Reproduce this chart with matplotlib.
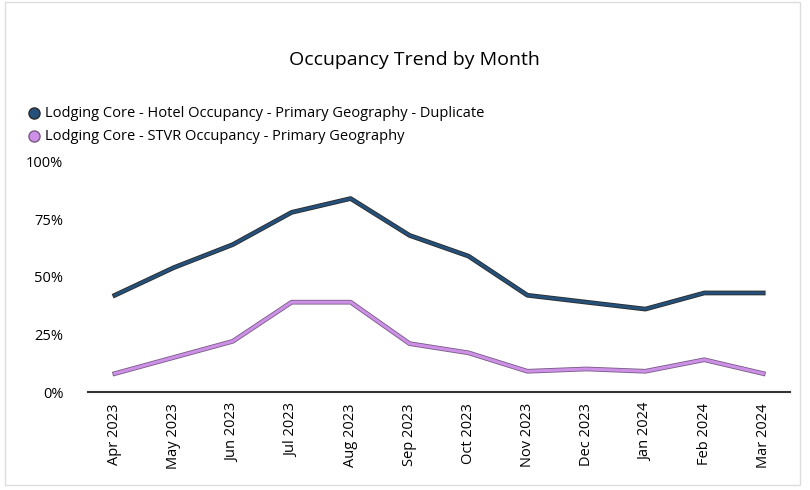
import numpy as np
import matplotlib.pyplot as plt
import matplotlib.patheffects as pe
from matplotlib.lines import Line2D
from matplotlib.ticker import FuncFormatter

plt.rcParams['font.family'] = ['Open Sans', 'DejaVu Sans']

months = ["Apr 2023", "May 2023", "Jun 2023", "Jul 2023", "Aug 2023", "Sep 2023",
          "Oct 2023", "Nov 2023", "Dec 2023", "Jan 2024", "Feb 2024", "Mar 2024"]
hotel = [42, 54, 64, 78, 84, 68, 59, 42, 39, 36, 43, 43]
stvr = [8, 15, 22, 39, 39, 21, 17, 9, 10, 9, 14, 8]

hotel_label = "Lodging Core - Hotel Occupancy - Primary Geography - Duplicate"
stvr_label = "Lodging Core - STVR Occupancy - Primary Geography"

fig = plt.figure(figsize=(8.1, 4.9), dpi=100)
ax = fig.add_axes([0.109, 0.2, 0.866, 0.47])

x = np.arange(len(months))
ax.plot(x, hotel, color='#24507a', lw=2.2,
        path_effects=[pe.Stroke(linewidth=3.4, foreground='#2b2b2b'), pe.Normal()])
ax.plot(x, stvr, color='#cc90e6', lw=2.2,
        path_effects=[pe.Stroke(linewidth=3.4, foreground='#7a5a86'), pe.Normal()])

ax.set_xlim(-0.45, 11.45)
ax.set_ylim(0, 100)
ax.set_yticks([0, 25, 50, 75, 100])
ax.yaxis.set_major_formatter(FuncFormatter(lambda v, p: f"{int(v)}%"))
ax.set_xticks(x)
ax.set_xticklabels(months, rotation=90, fontsize=10.5)
ax.tick_params(axis='y', length=0, labelsize=10.5, pad=18)
ax.tick_params(axis='x', length=0, pad=8)

for s in ['top', 'right', 'left']:
    ax.spines[s].set_visible(False)
ax.spines['bottom'].set_color('#333333')
ax.spines['bottom'].set_linewidth(1.5)

fig.text(0.512, 0.877, "Occupancy Trend by Month", ha='center', va='center', fontsize=14)

# legend, round markers so they stay circles
fig.add_artist(Line2D([0.042], [0.769], transform=fig.transFigure, marker='o', ms=8,
                      mfc='#24507a', mec='#2b2b2b', mew=1, ls='none'))
fig.add_artist(Line2D([0.042], [0.722], transform=fig.transFigure, marker='o', ms=8,
                      mfc='#cc90e6', mec='#7a5a86', mew=1, ls='none'))
fig.text(0.055, 0.769, hotel_label, va='center', fontsize=10.5)
fig.text(0.055, 0.722, stvr_label, va='center', fontsize=10.5)

# light frame around the chart
fig.patches.append(plt.Rectangle((0.006, 0.01), 0.982, 0.985, transform=fig.transFigure,
                                 fill=False, edgecolor='#dddddd', lw=1))

fig.savefig("out.png", dpi=100)
